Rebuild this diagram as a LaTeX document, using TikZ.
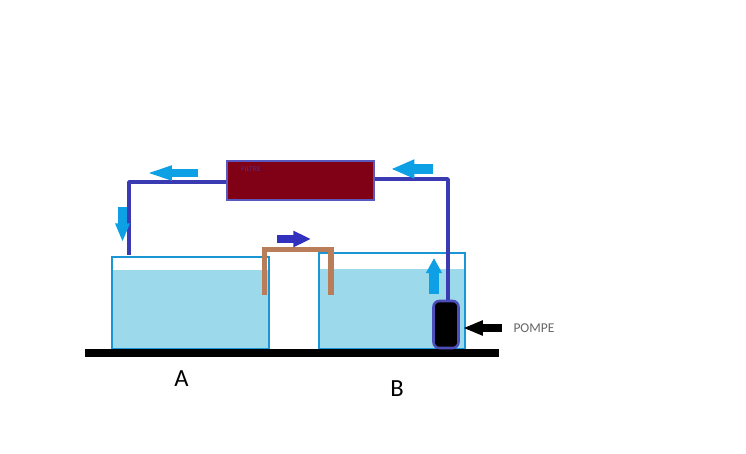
\documentclass[tikz,border=0pt]{standalone}
\usepackage{fontspec}
\setmainfont{Carlito}
\usetikzlibrary{arrows.meta,calc}
\definecolor{water}{RGB}{155,217,235}
\definecolor{glass}{RGB}{27,150,212}
\definecolor{pipe}{RGB}{58,58,178}
\definecolor{flowblue}{RGB}{14,160,228}
\definecolor{wine}{RGB}{128,0,22}
\definecolor{brownpipe}{RGB}{185,125,90}
\tikzset{
  tank/.style={draw=glass,line width=2.2pt,inner sep=0pt},
  pool/.style={fill=water,inner sep=0pt},
  tube/.style={draw=pipe,line width=3.2pt},
  lightflow/.style n args={3}{draw=flowblue,line width=#1pt,-{Triangle[length=#2pt,width=#3pt]}},
  siphonflow/.style={draw=pipe!85!blue,line width=7.5pt,-{Triangle[length=15pt,width=13pt]}},
  blackflow/.style={draw=black,line width=6pt,-{Triangle[length=17pt,width=12pt]}},
  tag/.style={inner sep=0pt},
}
\begin{document}
\begin{tikzpicture}[x=0.03cm,y=-0.03cm]
  \useasboundingbox (0,0) rectangle (746,454);
  % water and tanks
  \node[pool,minimum width=4.71cm,minimum height=2.37cm] (poolA) at (190.5,309.5) {};
  \node[pool,minimum width=4.38cm,minimum height=2.4cm] (poolB) at (392,309) {};
  \node[tank,minimum width=4.71cm,minimum height=2.76cm] (tankA) at (190.5,303) {};
  \node[tank,minimum width=4.38cm,minimum height=2.88cm] (tankB) at (392,301) {};
  \node[fill=black,inner sep=0pt,minimum width=12.42cm,minimum height=0.24cm] (sol) at (292,353) {};
  % siphon
  \coordinate (sipA) at (264.5,295);
  \coordinate (sipB) at (331,295);
  \coordinate (sipTopA) at (264.5,249.5);
  \coordinate (sipTopB) at (331,249.5);
  \draw[brownpipe,line width=4.6pt,line join=miter] (sipA) -- (sipTopA) -- (sipTopB) -- (sipB);
  % filter and pump
  \node[draw=pipe!85!white,fill=wine,line width=2pt,inner sep=0pt,minimum width=4.41cm,minimum height=1.17cm] (filtre) at (300.5,180.5) {};
  \node[tag,font=\fontsize{6.5}{7}\selectfont,text=pipe!80!wine] (filtreTxt) at (251,169.5) {FILTRE};
  \node[draw=pipe!90!white,fill=black,line width=2.2pt,rounded corners=5pt,inner sep=0pt,minimum width=0.75cm,minimum height=1.41cm] (pompe) at (446,324.5) {};
  % pipes
  \coordinate (coudeG) at (129,182);
  \coordinate (coudeD) at (448,179);
  \coordinate (sortie) at (129,255);
  \draw[tube,line join=round] (filtre.west |- coudeG) -- (coudeG) -- (sortie);
  \draw[tube,line join=round] (filtre.east |- coudeD) -- (coudeD) -- (coudeD |- pompe.north);
  % flow arrows
  \draw[lightflow={7}{23}{11}] (198,173) -- (145,173);
  \draw[lightflow={8.5}{20}{15}] (433,169) -- (391,169);
  \draw[lightflow={7.5}{16}{11.5}] (122.5,207) -- (122.5,242);
  \draw[lightflow={8.5}{13}{13}] (434,294) -- (434,258);
  \draw[siphonflow] (277,239) -- (311,239);
  \draw[blackflow] (502,328) -- (463,328);
  % labels
  \node[tag,font=\fontsize{11.5}{13}\selectfont,text=black!60] (pompeTxt) at (534,328) {POMPE};
  \node[tag,font=\fontsize{21}{24}\selectfont] (labelA) at (181.5,379) {A};
  \node[tag,font=\fontsize{21}{24}\selectfont] (labelB) at (397,389) {B};
\end{tikzpicture}
\end{document}
